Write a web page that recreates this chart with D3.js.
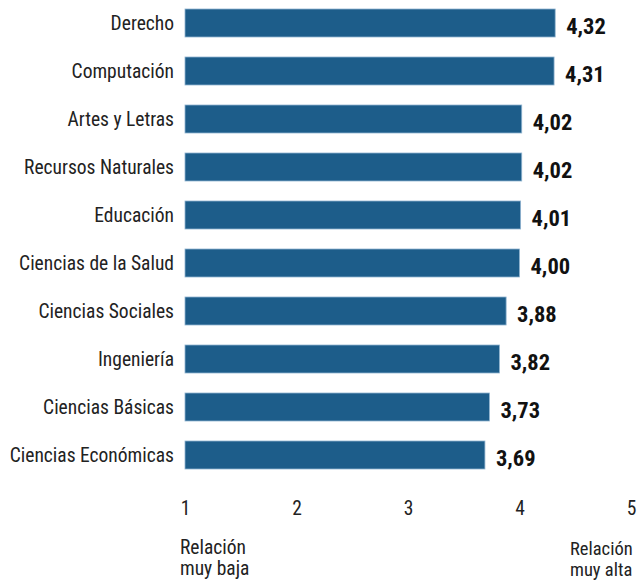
<!DOCTYPE html>
<html><head><meta charset="utf-8">
<script src="https://cdn.jsdelivr.net/npm/d3@7"></script>
<style>
body{margin:0;background:#fff;}
text{font-family:"Liberation Sans Narrow","Roboto Condensed","Liberation Sans",sans-serif;}
</style></head>
<body><svg id="c" width="642" height="580"></svg>
<script>
const categories = ["Derecho","Computación","Artes y Letras","Recursos Naturales","Educación","Ciencias de la Salud","Ciencias Sociales","Ingeniería","Ciencias Básicas","Ciencias Económicas"];
const values = [4.32,4.31,4.02,4.02,4.01,4.00,3.88,3.82,3.73,3.69];
const ticks = [1,2,3,4,5];
const lowLabel = ["Relación","muy baja"];
const highLabel = ["Relación","muy alta"];

const svg = d3.select("#c");
const x = d3.scaleLinear().domain([1,5]).range([185,631]);
const y = d3.scaleBand().domain(categories).range([-1,479]).paddingInner(0.4167).paddingOuter(0.2083);

svg.selectAll("rect.bar").data(values).enter().append("rect")
  .attr("x", x(1))
  .attr("y", (d,i)=>y(categories[i]))
  .attr("width", d=>x(d)-x(1))
  .attr("height", y.bandwidth())
  .attr("fill","#1d5d8a")
  .attr("stroke","#8fb3cf").attr("stroke-width",0.8);

svg.selectAll("text.cat").data(categories).enter().append("text")
  .attr("x", 174).attr("y", d=>y(d)+y.bandwidth()/2)
  .attr("dy","0.35em").attr("text-anchor","end")
  .attr("font-size",19.5).attr("fill","#222").text(d=>d);

svg.selectAll("text.val").data(values).enter().append("text")
  .attr("x", d=>x(d)+11).attr("y", (d,i)=>y(categories[i])+y.bandwidth()/2+3)
  .attr("dy","0.35em").attr("font-weight","bold")
  .attr("font-size",22.5).attr("fill","#111")
  .text(d=>d.toFixed(2).replace(".",","));

const axis = d3.axisBottom(x).tickValues(ticks).tickSize(0).tickFormat(d=>d);
const ag = svg.append("g").attr("transform","translate(0,498)").call(axis);
ag.select(".domain").remove();
ag.selectAll("text").attr("font-size",19.5).attr("fill","#222")
  .style("font-family",'"Liberation Sans Narrow","Roboto Condensed",sans-serif');

svg.selectAll("text.low").data(lowLabel).enter().append("text")
  .attr("x",180).attr("y",(d,i)=>554+i*21)
  .attr("font-size",19.5).attr("fill","#222").text(d=>d);
svg.selectAll("text.high").data(highLabel).enter().append("text")
  .attr("x",570).attr("y",(d,i)=>555+i*21)
  .attr("font-size",18.5).attr("fill","#222").text(d=>d);
</script></body></html>
